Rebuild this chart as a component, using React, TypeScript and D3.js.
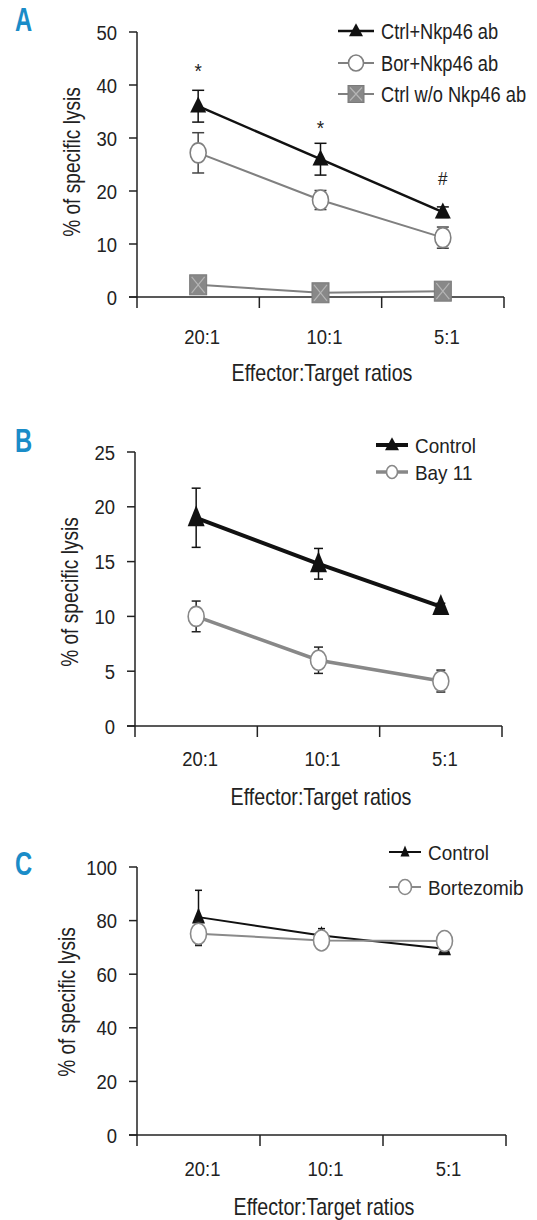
import { line, scaleBand, scaleLinear } from 'd3';
import type { ReactNode } from 'react';

// x categories shared by all three panels
const ratios = ['20:1', '10:1', '5:1'];

// panel A
const aTicks = [0, 10, 20, 30, 40, 50];
const aCtrlNkp46 = [36, 26, 16];
const aCtrlNkp46Err = [3, 3, 1];
const aBorNkp46 = [27.2, 18.3, 11.2];
const aBorNkp46Err = [3.8, 1.8, 2];
const aCtrlNoAb = [2.3, 0.8, 1.1];
const aSignif = ['*', '*', '#'];
const aSignifAt = [43.5, 32.8, 22.5];

// panel B
const bTicks = [0, 5, 10, 15, 20, 25];
const bControl = [19, 14.8, 10.9];
const bControlErr = [2.7, 1.4, 0.3];
const bBay11 = [10, 6, 4.1];
const bBay11Err = [1.4, 1.2, 1];

// panel C
const cTicks = [0, 20, 40, 60, 80, 100];
const cControl = [81.3, 74.4, 69.5];
const cControlErr = [10, 2.6, 0];
const cBortezomib = [75.1, 72.6, 72.4];
const cBortezomibErr = [4.4, 1.5, 0];

// no condensed face installed, so squeeze Liberation Sans horizontally
const FONT = "'Liberation Sans', Arial, sans-serif";
const TXT = '#222';
const BLUE = '#1a8cc8';

function T({ x, y, size, sx = 0.86, anchor = 'start', rot = 0, bold = false, fill = TXT, children }: {
  x: number; y: number; size: number; sx?: number; anchor?: string; rot?: number; bold?: boolean; fill?: string; children: ReactNode;
}) {
  return (
    <g transform={`translate(${x},${y}) rotate(${rot}) scale(${sx},1)`}>
      <text textAnchor={anchor as any} dy="0.36em" fontFamily={FONT} fontSize={size} fontWeight={bold ? 'bold' : 'normal'} fill={fill}>{children}</text>
    </g>
  );
}

type Series = {
  name: string;
  values: number[];
  err?: number[];
  marker: 'tri' | 'circle' | 'square';
  color: string;
  errColor?: string;
  width: number;
  size: number[]; // marker w,h
  legSize: number[];
};

type PanelDef = {
  label: string;
  top: number;
  bottom: number;
  left: number;
  right: number;
  ticks: number[];
  series: Series[];
  cap: number;
  legX: number;
  legY: number[];
  legLen: number;
  legFont: number;
  legSx: number;
  titleX: number;
  titleY: number;
  xLabOff: number;
  xTitleY: number;
  xTitleX: number;
  labelY: number;
  signif?: string[];
  signifAt?: number[];
};

function Marker({ kind, x, y, w, h, color }: { kind: string; x: number; y: number; w: number; h: number; color: string }) {
  if (kind === 'tri') {
    return <path d={`M${x},${y - h * 0.6}L${x + w / 2},${y + h * 0.4}L${x - w / 2},${y + h * 0.4}Z`} fill="#111" />;
  }
  if (kind === 'circle') {
    return <ellipse cx={x} cy={y} rx={w / 2} ry={h / 2} fill="#fff" stroke={color} strokeWidth={1.6} />;
  }
  return (
    <g>
      <rect x={x - w / 2} y={y - h / 2} width={w} height={h} fill="#888" stroke="#7a7a7a" strokeWidth={1} />
      <path d={`M${x - w / 2 + 2},${y - h / 2 + 2}L${x + w / 2 - 2},${y + h / 2 - 2}M${x + w / 2 - 2},${y - h / 2 + 2}L${x - w / 2 + 2},${y + h / 2 - 2}`} stroke="#b5b5b5" strokeWidth={1.2} />
    </g>
  );
}

function Panel({ p }: { p: PanelDef }) {
  const x = scaleBand<string>().domain(ratios).range([p.left, p.right]);
  const y = scaleLinear().domain([p.ticks[0], p.ticks[p.ticks.length - 1]]).range([p.bottom, p.top]);
  const cx = (c: string) => (x(c) as number) + x.bandwidth() / 2;
  const gen = line<number>().x((_, i) => cx(ratios[i])).y((d) => y(d));

  return (
    <g>
      <T x={15} y={p.labelY - 12} size={33} sx={0.72} bold fill={BLUE}>{p.label}</T>

      {/* y axis */}
      <line x1={p.left} x2={p.left} y1={p.top} y2={p.bottom + 11} stroke={TXT} strokeWidth={1.5} />
      {p.ticks.map((t) => (
        <g key={t}>
          <line x1={p.left - 8} x2={p.left} y1={y(t)} y2={y(t)} stroke={TXT} strokeWidth={1.5} />
          <T x={p.left - 20} y={y(t)} size={21} sx={0.88} anchor="end">{t}</T>
        </g>
      ))}
      <T x={p.titleX} y={p.titleY} size={23} sx={0.83} rot={-90} anchor="middle">% of specific lysis</T>

      {/* x axis */}
      <line x1={p.left - 8} x2={p.right} y1={p.bottom} y2={p.bottom} stroke={TXT} strokeWidth={1.5} />
      {ratios.map((r) => (
        <line key={r} x1={(x(r) as number) + x.bandwidth()} x2={(x(r) as number) + x.bandwidth()} y1={p.bottom} y2={p.bottom + 11} stroke={TXT} strokeWidth={1.5} />
      ))}
      {ratios.map((r) => (
        <T key={r} x={cx(r) + 4} y={p.bottom + p.xLabOff} size={21} sx={0.88} anchor="middle">{r}</T>
      ))}
      <T x={p.xTitleX} y={p.xTitleY} size={23} sx={0.855} anchor="middle">Effector:Target ratios</T>

      {/* series */}
      {p.series.map((s) => (
        <g key={s.name}>
          {s.err && s.values.map((v, i) => {
            const px = cx(ratios[i]);
            const e = s.err![i];
            if (!e) return null;
            return (
              <g key={i} stroke={s.errColor || '#111'} strokeWidth={1.5}>
                <line x1={px} x2={px} y1={y(v - e)} y2={y(v + e)} />
                <line x1={px - p.cap} x2={px + p.cap} y1={y(v + e)} y2={y(v + e)} />
                <line x1={px - p.cap} x2={px + p.cap} y1={y(v - e)} y2={y(v - e)} />
              </g>
            );
          })}
          <path d={gen(s.values) || ''} fill="none" stroke={s.color} strokeWidth={s.width} />
          {s.values.map((v, i) => (
            <Marker key={i} kind={s.marker} x={cx(ratios[i])} y={y(v)} w={s.size[0]} h={s.size[1]} color={s.color} />
          ))}
        </g>
      ))}

      {p.signif && p.signif.map((m, i) => (
        <T key={i} x={cx(ratios[i])} y={y(p.signifAt![i]) + (m === '*' ? 4 : 0)} size={m === '#' ? 19 : 21} sx={0.9} anchor="middle">{m}</T>
      ))}

      {/* legend */}
      {p.series.map((s, i) => {
        const ly = p.legY[i];
        return (
          <g key={s.name}>
            <line x1={p.legX} x2={p.legX + p.legLen} y1={ly} y2={ly} stroke={s.color} strokeWidth={s.width} />
            <Marker kind={s.marker} x={p.legX + p.legLen / 2} y={ly} w={s.legSize[0]} h={s.legSize[1]} color={s.color} />
            <T x={p.legX + p.legLen + 7} y={ly} size={p.legFont} sx={p.legSx}>{s.name}</T>
          </g>
        );
      })}
    </g>
  );
}

const panels: PanelDef[] = [
  {
    label: 'A', top: 32, bottom: 297, left: 137, right: 504, ticks: aTicks,
    series: [
      { name: 'Ctrl+Nkp46 ab', values: aCtrlNkp46, err: aCtrlNkp46Err, marker: 'tri', color: '#111', width: 2.5, size: [16, 16], legSize: [14, 13] },
      { name: 'Bor+Nkp46 ab', values: aBorNkp46, err: aBorNkp46Err, marker: 'circle', color: '#808080', errColor: '#444', width: 2, size: [16, 20], legSize: [15, 16] },
      { name: 'Ctrl w/o Nkp46 ab', values: aCtrlNoAb, marker: 'square', color: '#808080', width: 2, size: [17, 20], legSize: [16, 17] },
    ],
    cap: 6,
    legX: 338, legY: [31, 63, 94], legLen: 36, legFont: 22, legSx: 0.83,
    titleX: 72, titleY: 162, xLabOff: 39, xTitleX: 322, xTitleY: 373, labelY: 31,
    signif: aSignif, signifAt: aSignifAt,
  },
  {
    label: 'B', top: 452, bottom: 726, left: 135, right: 502, ticks: bTicks,
    series: [
      { name: 'Control', values: bControl, err: bControlErr, marker: 'tri', color: '#111', width: 4, size: [17, 21], legSize: [14, 13] },
      { name: 'Bay 11', values: bBay11, err: bBay11Err, marker: 'circle', color: '#888', errColor: '#222', width: 3.5, size: [16, 20], legSize: [11, 13] },
    ],
    cap: 4.5,
    legX: 376, legY: [445, 472], legLen: 32, legFont: 21, legSx: 0.9,
    titleX: 70, titleY: 592, xLabOff: 32, xTitleX: 321, xTitleY: 797, labelY: 452,
  },
  {
    label: 'C', top: 867, bottom: 1135, left: 137, right: 506, ticks: cTicks,
    series: [
      { name: 'Control', values: cControl, err: cControlErr, marker: 'tri', color: '#111', width: 2, size: [13, 16], legSize: [9, 11] },
      { name: 'Bortezomib', values: cBortezomib, err: cBortezomibErr, marker: 'circle', color: '#8a8a8a', errColor: '#222', width: 2, size: [16, 21], legSize: [13, 15] },
    ],
    cap: 3.5,
    legX: 389, legY: [852, 887], legLen: 32, legFont: 21, legSx: 0.9,
    titleX: 67, titleY: 1002, xLabOff: 33, xTitleX: 324, xTitleY: 1207, labelY: 875,
  },
];

export default function App() {
  return (
    <svg width={537} height={1220} style={{ position: 'absolute', left: 0, top: 0, background: '#fff' }}>
      {panels.map((p) => (
        <Panel key={p.label} p={p} />
      ))}
    </svg>
  );
}
